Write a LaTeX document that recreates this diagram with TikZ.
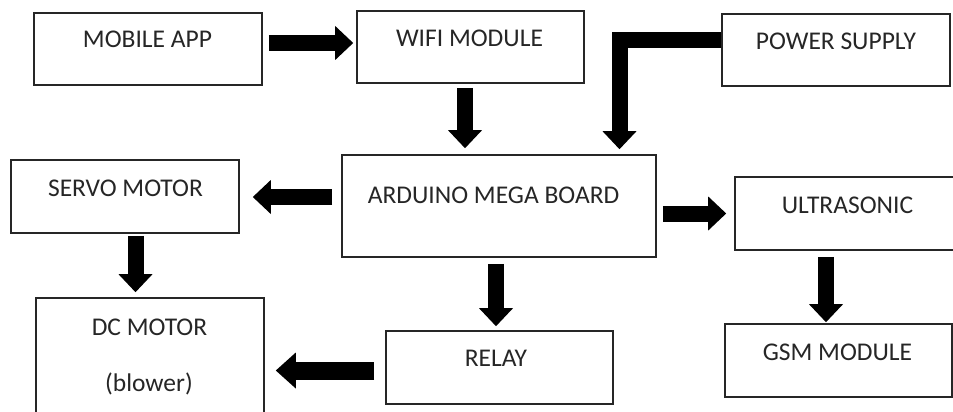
\documentclass[tikz,border=0pt]{standalone}
\usepackage{fontspec}
\setmainfont{Carlito}
\usetikzlibrary{arrows.meta,calc}
\tikzset{
  box/.style={draw=black!85, line width=1.6pt, rectangle, inner sep=0pt, fill=white},
  lbl/.style={anchor=base, inner sep=0pt, text=black!85, font=\fontsize{25.5}{30}\selectfont},
  barrow/.style={line width=16pt, draw=black, -{Triangle[width=34pt,length=18pt,line width=0pt]}}
}
\begin{document}
\begin{tikzpicture}[x=1pt,y=-1pt]
\clip (0,0) rectangle (953,412);
\fill[white] (0,0) rectangle (953,412);
% boxes
\node[box, minimum width=228pt, minimum height=72pt] (mob) at (148,49) {};
\node[box, minimum width=227pt, minimum height=72pt] (wifi) at (470.5,47) {};
\node[box, minimum width=228pt, minimum height=72pt] (pow) at (836,50) {};
\node[box, minimum width=314pt, minimum height=102pt] (ard) at (499,206) {};
\node[box, minimum width=228pt, minimum height=73pt] (servo) at (125,196.5) {};
\node[box, minimum width=228pt, minimum height=73pt] (ultra) at (849,213.5) {};
\node[box, minimum width=227pt, minimum height=73pt] (gsm) at (838.5,360.5) {};
\node[box, minimum width=227pt, minimum height=73pt] (relay) at (499.5,367.5) {};
\node[box, minimum width=228pt, minimum height=122pt] (dc) at (150,359) {};
% labels
\node[lbl] (mobT) at (147.5,48) {MOBILE APP};
\node[lbl] (wifiT) at (469.5,47) {WIFI MODULE};
\node[lbl] (powT) at (836,50) {POWER SUPPLY};
\node[lbl] (servoT) at (125.5,196) {SERVO MOTOR};
\node[lbl] (ardT) at (493.5,203) {ARDUINO MEGA BOARD};
\node[lbl] (ultraT) at (847.5,213) {ULTRASONIC};
\node[lbl] (dcT) at (149.5,335) {DC MOTOR};
\node[lbl] (dcT2) at (149,391) {(blower)};
\node[lbl] (relayT) at (496,366) {RELAY};
\node[lbl] (gsmT) at (837.5,360) {GSM MODULE};
% arrows
\draw[barrow] ($(mob.east)+(6,-6)$) -- ($(wifi.west)+(-3,-4)$);
\draw[barrow] ($(wifi.south)+(-5.5,4)$) -- ($(ard.north)+(-34,-6)$);
\draw[barrow] ($(pow.west)+(0,-9.5)$) -| ($(ard.north)+(120.5,-5)$);
\draw[barrow] ($(ard.west)+(-9,-9)$) -- ($(servo.east)+(13,0.5)$);
\draw[barrow] ($(servo.south)+(10.5,2)$) -- ($(dc.north)+(-14.5,-5)$);
\draw[barrow] ($(ard.east)+(6,7.5)$) -- ($(ultra.west)+(-8,0)$);
\draw[barrow] ($(ard.south)+(-3,6)$) -- ($(relay.north)+(-3.5,-4)$);
\draw[barrow] ($(ultra.south)+(-23,6)$) -- ($(gsm.north)+(-12.5,-1)$);
\draw[barrow, line width=18pt, -{Triangle[width=36pt,length=20pt,line width=0pt]}] ($(relay.west)+(-11,3)$) -- ($(dc.east)+(11,11.5)$);
\end{tikzpicture}
\end{document}
